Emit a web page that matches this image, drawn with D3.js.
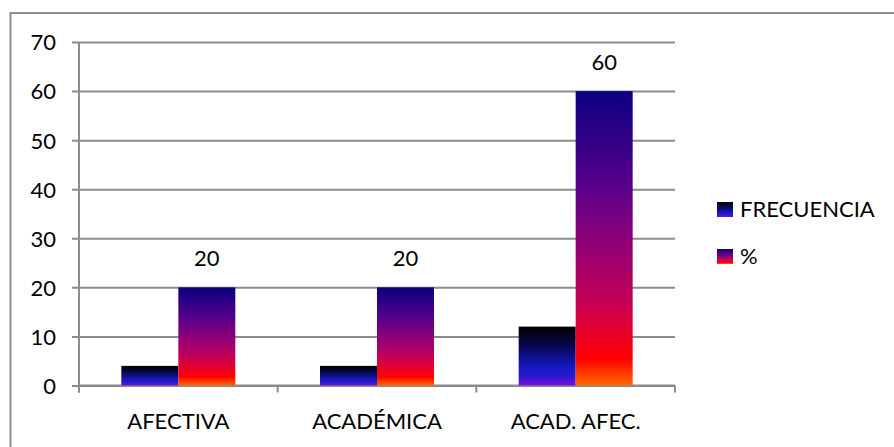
<!DOCTYPE html>
<html>
<head>
<meta charset="utf-8">
<script src="https://cdn.jsdelivr.net/npm/d3@7"></script>
<style>
  html, body { margin: 0; padding: 0; background: #fff; }
  svg { display: block; }
  text { font-family: Lato, "Open Sans", sans-serif; fill: #000; }
</style>
</head>
<body>
<svg id="chart" width="894" height="447"></svg>
<script>
const categories = ["AFECTIVA", "ACADÉMICA", "ACAD. AFEC."];
const seriesNames = ["FRECUENCIA", "%"];
const frecuencia = [4, 4, 12];
const porcentaje = [20, 20, 60];
const yTicks = [0, 10, 20, 30, 40, 50, 60, 70];

const svg = d3.select("#chart");
const W = 894, H = 447;
const plot = { left: 79, right: 675, top: 42, bottom: 385.5 };
const grid = "#8c8c8c";
const fontSize = 22;

// gradients
const defs = svg.append("defs");
const grads = {
  frec: [[0, "#000000"], [0.25, "#05053a"], [0.5, "#0e0e88"], [0.72, "#1a1ac8"], [0.86, "#3018d0"], [1, "#7a10d8"]],
  pct: [[0, "#0a0080"], [0.33, "#5a008a"], [0.5, "#8c0078"], [0.7, "#c0005a"], [0.82, "#e8002a"], [0.91, "#ff0000"], [1, "#ff6a00"]]
};
Object.entries(grads).forEach(([id, stops]) => {
  const g = defs.append("linearGradient").attr("id", id)
    .attr("x1", 0).attr("y1", 0).attr("x2", 0).attr("y2", 1);
  stops.forEach(([o, c]) => g.append("stop").attr("offset", o).attr("stop-color", c));
});
const fills = ["url(#frec)", "url(#pct)"];

// outer border
svg.append("rect").attr("x", 10.5).attr("y", 13).attr("width", W + 20).attr("height", H + 20)
  .attr("fill", "none").attr("stroke", grid).attr("stroke-width", 2);

const x = d3.scaleBand().domain(categories).range([plot.left, plot.right]).paddingInner(0).paddingOuter(0);
const y = d3.scaleLinear().domain([0, 70]).range([plot.bottom, plot.top]);
const barW = 57;

// y axis with gridlines
const yAxis = svg.append("g").attr("transform", `translate(${plot.left},0)`)
  .call(d3.axisLeft(y).tickValues(yTicks).tickSize(-(plot.right - plot.left)).tickSizeOuter(0).tickPadding(0));
yAxis.select(".domain").remove();
yAxis.selectAll(".tick line").attr("stroke", grid).attr("stroke-width", 2).attr("x1", -7);
yAxis.selectAll(".tick text").attr("x", -23).attr("dy", "0.36em")
  .style("font-size", fontSize + "px").attr("text-anchor", "end");
// vertical axis line
svg.append("line").attr("x1", plot.left).attr("x2", plot.left)
  .attr("y1", plot.top).attr("y2", plot.bottom + 7).attr("stroke", grid).attr("stroke-width", 2);

// x axis
const bounds = [...categories.map(c => x(c)), plot.right];
svg.append("line").attr("x1", plot.left).attr("x2", plot.right)
  .attr("y1", plot.bottom).attr("y2", plot.bottom).attr("stroke", grid).attr("stroke-width", 2);
svg.selectAll(".xtick").data(bounds).enter().append("line")
  .attr("x1", d => d).attr("x2", d => d).attr("y1", plot.bottom).attr("y2", plot.bottom + 7)
  .attr("stroke", grid).attr("stroke-width", 2);
svg.selectAll(".xlab").data(categories).enter().append("text")
  .attr("x", d => x(d) + x.bandwidth() / 2).attr("y", 429)
  .attr("text-anchor", "middle").style("font-size", fontSize + "px").text(d => d);

// bars
const series = [frecuencia, porcentaje];
series.forEach((vals, si) => {
  svg.selectAll(".bar" + si).data(vals).enter().append("rect")
    .attr("x", (d, i) => x(categories[i]) + x.bandwidth() / 2 - barW + si * barW)
    .attr("width", barW)
    .attr("y", d => y(d))
    .attr("height", d => y(0) - y(d))
    .attr("fill", fills[si]);
});
// data labels for %
svg.selectAll(".lbl").data(porcentaje).enter().append("text")
  .attr("x", (d, i) => x(categories[i]) + x.bandwidth() / 2 + barW / 2)
  .attr("y", d => y(d) - 21)
  .attr("text-anchor", "middle").style("font-size", fontSize + "px").text(d => d);

// legend
const leg = svg.append("g");
seriesNames.forEach((n, i) => {
  const yy = 202 + i * 47;
  leg.append("rect").attr("x", 717).attr("y", yy).attr("width", 16).attr("height", 15).attr("fill", fills[i]);
  leg.append("text").attr("x", 740).attr("y", yy + 15).style("font-size", fontSize + "px").text(n);
});
</script>
</body>
</html>
